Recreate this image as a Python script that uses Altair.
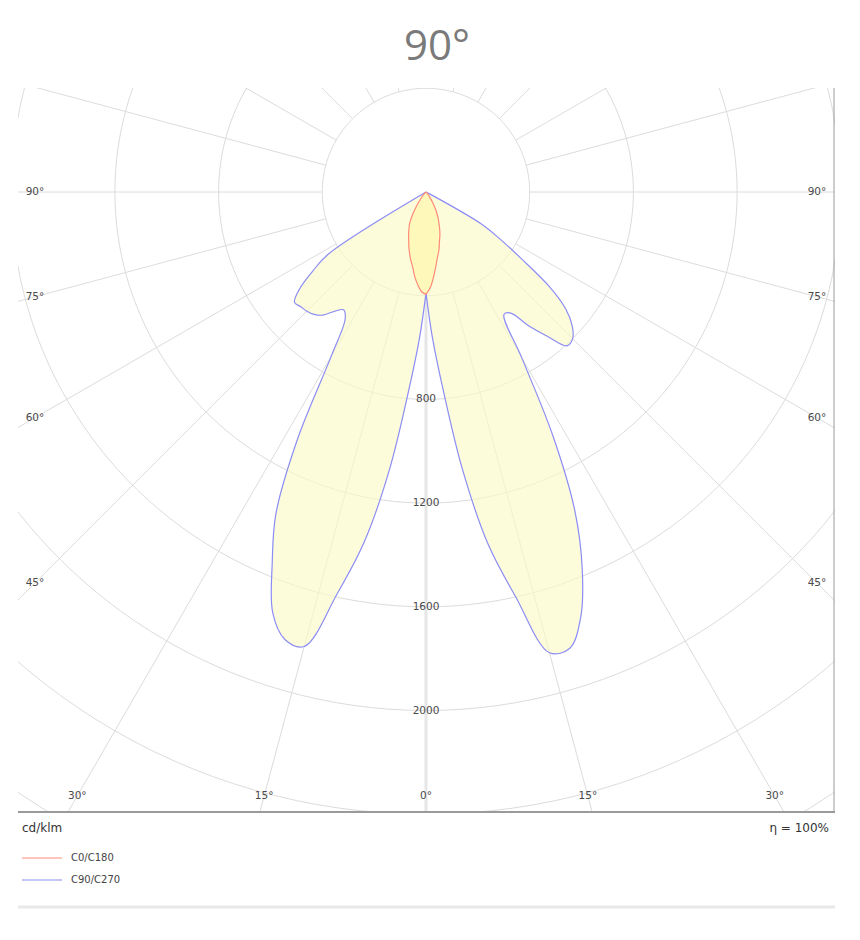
import altair as alt
import numpy as np
import pandas as pd

# ---------------- data (cd/klm) ----------------
GAMMA = [0, 2.5, 5, 7.5, 10, 12.5, 15, 17.5, 20, 22.5, 25, 27.5, 30, 32.5, 35, 37.5,
         40, 42.5, 45, 47.5, 50, 52.5, 55, 57.5, 60, 62.5, 65, 67.5, 70, 72.5, 75,
         77.5, 80, 82.5, 85, 87.5, 90]
C0 = [395, 370, 330, 290, 255, 230, 200, 178, 155, 130, 110, 88, 65, 45, 30, 20,
      12, 6, 3, 1, 0, 0, 0, 0, 0, 0, 0, 0, 0, 0, 0, 0, 0, 0, 0, 0, 0]
C180 = [395, 385, 360, 330, 295, 270, 245, 220, 195, 175, 155, 137, 110, 80, 55, 35,
        20, 10, 5, 2, 0, 0, 0, 0, 0, 0, 0, 0, 0, 0, 0, 0, 0, 0, 0, 0, 0]
C90 = [390, 560, 770, 1080, 1380, 1600, 1840, 1845, 1745, 1575, 1360, 1060, 740, 560,
       570, 650, 725, 805, 800, 765, 705, 600, 450, 340, 245, 20, 0, 0, 0, 0, 0,
       0, 0, 0, 0, 0, 0]
C270 = [390, 560, 770, 1080, 1370, 1590, 1815, 1810, 1728, 1550, 1370, 1070, 730, 580,
        555, 580, 620, 640, 650, 655, 662, 615, 535, 450, 0, 0, 0, 0, 0, 0, 0,
        0, 0, 0, 0, 0, 0]
SERIES = ["C0/C180", "C90/C270"]
RINGS = [400, 800, 1200, 1600, 2000, 2400, 2800]
RING_LABELS = [800, 1200, 1600, 2000]
SPOKES = list(range(0, 360, 15))
SIDE_LABEL_ANGLES = [90, 75, 60, 45]
BOTTOM_LABEL_ANGLES = [-30, -15, 0, 15, 30]
TITLE = "90°"
UNIT = "cd/klm"
ETA = "η = 100%"

# ---------------- layout ----------------
PX = 400 / 103.7            # cd per pixel
W, H = 817, 724
XDOM = [-408 * PX, 409 * PX]
YDOM = [-620 * PX, 104 * PX]
GRID = "#dcdcdc"
LABEL = "#4a4a4a"
RED = "#ff8a7a"
BLUE = "#8c8cf5"

xs = alt.Scale(domain=XDOM, nice=False, zero=False)
ys = alt.Scale(domain=YDOM, nice=False, zero=False)


def polar(g, r):
    t = np.radians(g)
    return r * np.sin(t), -r * np.cos(t)


def curve(left, right):
    rows = []
    for g, r in zip(GAMMA[::-1], left[::-1]):
        x, y = polar(g, r)
        rows.append((-x, y))
    for g, r in zip(GAMMA, right):
        rows.append(polar(g, r))
    df = pd.DataFrame(rows, columns=["x", "y"])
    df["i"] = range(len(df))
    return df


# grid rings
ring_rows = []
for r in RINGS:
    for k, a in enumerate(np.arange(0, 361, 2)):
        x, y = polar(a, r)
        ring_rows.append({"ring": r, "i": k, "x": x, "y": y})
rings_df = pd.DataFrame(ring_rows)

# spokes
spoke_rows = []
for a in SPOKES:
    x1, y1 = polar(a, RINGS[0])
    x2, y2 = polar(a, 3400)
    spoke_rows.append({"a": a, "x": x1, "y": y1, "x2": x2, "y2": y2})
spokes_df = pd.DataFrame(spoke_rows)
spokes_main = spokes_df[spokes_df.a != 0]
spokes_zero = spokes_df[spokes_df.a == 0]

# labels
ring_lab = pd.DataFrame({"x": [0] * len(RING_LABELS), "y": [-v for v in RING_LABELS],
                         "t": [str(v) for v in RING_LABELS]})
ang_rows = []
for g in SIDE_LABEL_ANGLES:
    for s in (-1, 1):
        dx = 391 * PX
        dy = 0 if g == 90 else dx / np.tan(np.radians(g))
        ang_rows.append({"x": s * dx, "y": -dy, "t": f"{g}°"})
for g in BOTTOM_LABEL_ANGLES:
    dy = 604 * PX
    ang_rows.append({"x": dy * np.tan(np.radians(g)), "y": -dy, "t": f"{abs(g)}°"})
ang_lab = pd.DataFrame(ang_rows)

one = pd.DataFrame({"k": [0]})

base_x = lambda f="x:Q": alt.X(f, scale=xs, axis=None)
base_y = lambda f="y:Q": alt.Y(f, scale=ys, axis=None)

rings = alt.Chart(rings_df).mark_line(color=GRID, strokeWidth=1, clip=True).encode(
    x=base_x(), y=base_y(), detail="ring:N", order="i:Q")
spokes = alt.Chart(spokes_main).mark_rule(color=GRID, strokeWidth=1, clip=True).encode(
    x=base_x(), y=base_y(), x2="x2:Q", y2="y2:Q")
spoke0 = alt.Chart(spokes_zero).mark_rule(color="#e6e6e6", strokeWidth=3, clip=True).encode(
    x=base_x(), y=base_y(), x2="x2:Q", y2="y2:Q")

blue = alt.Chart(curve(C270, C90)).mark_line(
    fill="#fafac8", fillOpacity=0.65, stroke=BLUE, strokeWidth=1.2, clip=True,
    interpolate="catmull-rom"
).encode(x=base_x(), y=base_y(), order="i:Q")
red = alt.Chart(curve(C180, C0)).mark_line(
    fill="#fff5a0", fillOpacity=0.55, stroke=RED, strokeWidth=1.2, clip=True,
    interpolate="catmull-rom"
).encode(x=base_x(), y=base_y(), order="i:Q")

ringtxt = alt.Chart(ring_lab).mark_text(font="DejaVu Sans", fontSize=10.5, color=LABEL,
                                        baseline="middle", align="center").encode(
    x=base_x(), y=base_y(), text="t:N")
angtxt = alt.Chart(ang_lab).mark_text(font="DejaVu Sans", fontSize=10.5, color=LABEL,
                                      baseline="middle", align="center").encode(
    x=base_x(), y=base_y(), text="t:N")

frame_b = alt.Chart(one).mark_rule(color="#9a9a9a", strokeWidth=2).encode(
    x=alt.value(0), x2=alt.value(W), y=alt.value(H))
frame_r = alt.Chart(one).mark_rule(color="#9a9a9a", strokeWidth=1).encode(
    x=alt.value(W - 1), y=alt.value(0), y2=alt.value(H))

title = alt.Chart(one).mark_text(text=TITLE, font="Open Sans", fontSize=42, color="#7a7a7a",
                                 align="center", baseline="middle").encode(
    x=alt.value(419), y=alt.value(-41))
unit = alt.Chart(one).mark_text(text=UNIT, font="DejaVu Sans", fontSize=12, color="#333333",
                                align="left", baseline="middle").encode(
    x=alt.value(4), y=alt.value(740))
eta = alt.Chart(one).mark_text(text=ETA, font="DejaVu Sans", fontSize=12, color="#333333",
                               align="right", baseline="middle").encode(
    x=alt.value(811), y=alt.value(740))

leg_rows = pd.DataFrame({"s": SERIES, "yy": [770, 792]})
leg_lines = alt.Chart(leg_rows).mark_rule(strokeWidth=1.2).encode(
    x=alt.value(4), x2=alt.value(44), y=alt.Y("yy:Q", scale=None, axis=None),
    color=alt.Color("s:N", scale=alt.Scale(domain=SERIES, range=[RED, BLUE]), legend=None))
leg_text = alt.Chart(leg_rows).mark_text(font="DejaVu Sans", fontSize=10, color="#444444",
                                         align="left", baseline="middle").encode(
    x=alt.value(53), y=alt.Y("yy:Q", scale=None, axis=None), text="s:N")
bar = alt.Chart(one).mark_rule(color="#e8e8e8", strokeWidth=3).encode(
    x=alt.value(0), x2=alt.value(W), y=alt.value(819))

chart = alt.layer(
    rings, spokes, spoke0, blue, red, ringtxt, angtxt, frame_b, frame_r,
    title, unit, eta, leg_lines, leg_text, bar
).resolve_scale(y="independent").properties(
    width=W, height=H,
    autosize=alt.AutoSizeParams(type="none"),
    padding={"left": 10, "top": 80, "right": 17, "bottom": 120},
).configure_view(stroke=None)

chart.save("out.html", embed_options={"renderer": "svg", "actions": False})
